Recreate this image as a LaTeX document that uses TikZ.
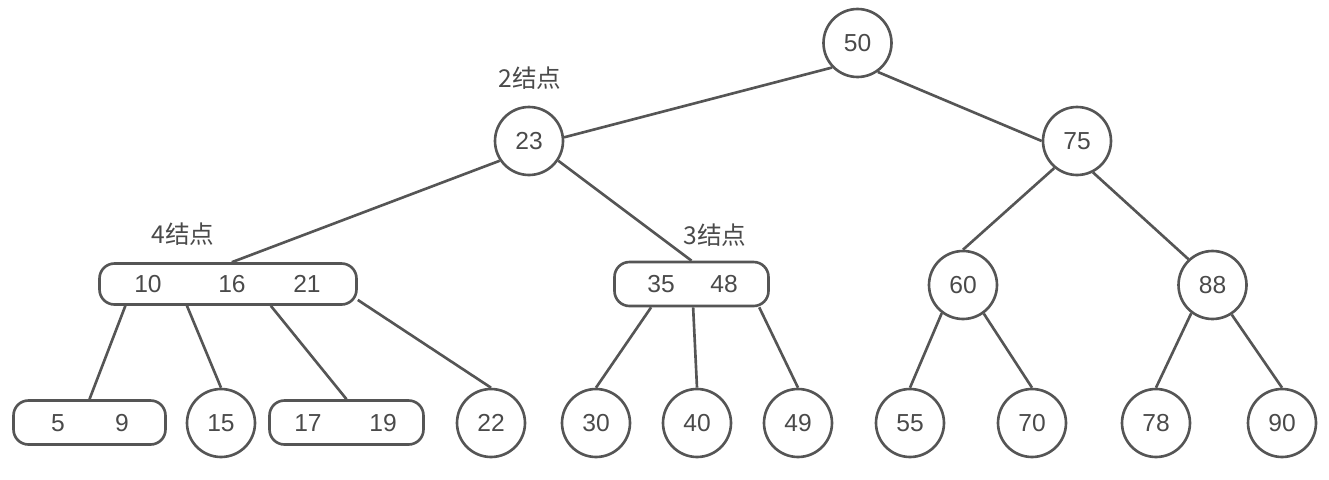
\documentclass[tikz,border=0pt]{standalone}
\usepackage{fontspec}
\setmainfont{Liberation Sans}
\newfontfamily\cjk{Noto Sans CJK SC}
\usepackage{xcolor}
\usepackage{tikz}
\definecolor{linegray}{HTML}{555555}
\definecolor{textgray}{HTML}{4A4A4A}

\begin{document}
\begin{tikzpicture}[x=0.02cm, y=-0.02cm,
  every node/.style={font=\fontsize{14}{16}\selectfont, text=textgray},
  knode/.style={circle,draw=linegray,line width=1.5pt,minimum size=1.36cm,inner sep=0pt},
  kbox/.style={rectangle,rounded corners=8.5pt,draw=linegray,line width=1.5pt,minimum height=0.88cm,inner sep=0pt}]
\useasboundingbox (0,0) rectangle (1329,480);

% 2-nodes
\foreach \v/\x/\y in {50/857.5/43, 23/529/141, 75/1077/141, 60/963/285, 88/1212.5/285,
  15/221/423, 22/491/423, 30/596/423, 40/697/423, 49/798/423,
  55/910/423, 70/1032/423, 78/1156/423, 90/1282/423} {
  \node[knode] (n\v) at (\x,\y) {\v};
}

% multi-key nodes
\node[kbox,minimum width=5.14cm,minimum height=0.82cm] (K4) at (228,284) {};
\node[kbox,minimum width=3.08cm] (K3) at (691.5,284) {};
\node[kbox,minimum width=3.04cm] (R59) at (89.5,422.5) {};
\node[kbox,minimum width=3.08cm] (R1719) at (346.5,422.5) {};
\foreach \v/\x/\y in {10/148/284, 16/232/284, 21/307/284, 35/661/284, 48/724/284,
  5/58/423, 9/122/423, 17/308/423, 19/383/423} {
  \node (k\v) at (\x,\y) {\v};
}

\node (lab2) at (530,78) {\cjk 2结点};
\node (lab4) at (183,234) {\cjk 4结点};
\node (lab3) at (715,235) {\cjk 3结点};

\foreach \a/\b in {n50.-136/n23.6, n50.-55/n75.west, n23.-146/K4.80, n23.-34/K3.north,
  n75.-130/n60.north, n75.-63/n88.133,
  K4.-168/R59.north, K4.-152/n15.north, K4.-27/R1719.north, K4.-7/n22.north,
  K3.-150/n30.north, K3.-86/n40.north, K3.-19/n49.north,
  n60.-127/n55.north, n60.-54/n70.north, n88.-127/n78.north, n88.-57/n90.north} {
  \draw[linegray,line width=1.5pt] (\a)--(\b);
}
\end{tikzpicture}
\end{document}
